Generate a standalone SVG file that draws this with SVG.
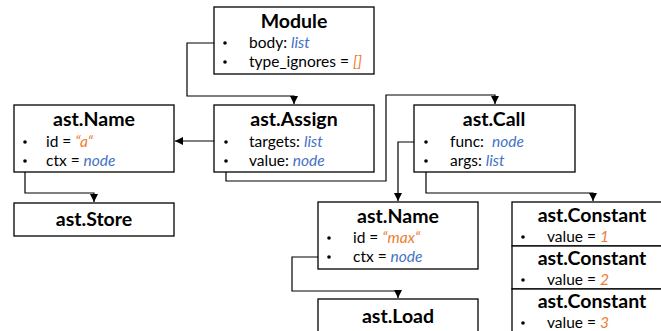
<svg xmlns="http://www.w3.org/2000/svg" width="661" height="331" viewBox="0 0 661 331">
  <defs>
    <marker id="arr" viewBox="0 0 8 8" refX="8" refY="4" markerWidth="8" markerHeight="8" markerUnits="userSpaceOnUse" orient="auto">
      <path d="M0,0 L8,4 L0,8 z" fill="#000"/>
    </marker>
  </defs>
  <style>
    .box { fill: #fff; stroke: #000; stroke-width: 1.3; }
    .title { font-family: Lato, "Liberation Sans", sans-serif; font-weight: bold; font-size: 19.5px; text-anchor: middle; fill: #000; }
    .txt { font-family: Lato, "Liberation Sans", sans-serif; font-size: 15.5px; fill: #000; }
    .blue { fill: #4472C4; font-style: italic; }
    .orange { fill: #ED7D31; font-style: italic; }
    .bul { fill: #000; }
    .wire { fill: none; stroke: #000; stroke-width: 1.2; }
  </style>

  <!-- edges -->
  <g id="connectors">
    <path class="wire" d="M225,43 H187 V96 H294 V104" marker-end="url(#arr)"/>
    <path class="wire" d="M226,141 H175" marker-end="url(#arr)"/>
    <path class="wire" d="M226,161 V181 H386 V95 H495 V104" marker-end="url(#arr)"/>
    <path class="wire" d="M25,161 V193 H94 V202" marker-end="url(#arr)"/>
    <path class="wire" d="M426,142 H398 V201" marker-end="url(#arr)"/>
    <path class="wire" d="M426,161 V193 H593 V201" marker-end="url(#arr)"/>
    <path class="wire" d="M329,257 H292 V291 H398 V298" marker-end="url(#arr)"/>
  </g>

  <g id="module">
    <rect class="box" x="214" y="7" width="160" height="67"/>
    <text class="title" x="294" y="28">Module</text>
    <circle class="bul" cx="225" cy="43" r="1.8"/>
    <text class="txt" x="249" y="48">body: <tspan class="blue">list</tspan></text>
    <circle class="bul" cx="225" cy="62" r="1.8"/>
    <text class="txt" x="249" y="67">type_ignores = <tspan class="orange">[]</tspan></text>
  </g>

  <g id="name-a">
    <rect class="box" x="14" y="105" width="160" height="67"/>
    <text class="title" x="94" y="126">ast.Name</text>
    <circle class="bul" cx="25" cy="142" r="1.8"/>
    <text class="txt" x="46" y="147">id = <tspan class="orange">“a“</tspan></text>
    <circle class="bul" cx="25" cy="161" r="1.8"/>
    <text class="txt" x="46" y="166">ctx = <tspan class="blue">node</tspan></text>
  </g>

  <g id="assign">
    <rect class="box" x="214" y="105" width="160" height="67"/>
    <text class="title" x="294" y="126">ast.Assign</text>
    <circle class="bul" cx="226" cy="142" r="1.8"/>
    <text class="txt" x="249" y="147">targets: <tspan class="blue">list</tspan></text>
    <circle class="bul" cx="226" cy="161" r="1.8"/>
    <text class="txt" x="249" y="166">value: <tspan class="blue">node</tspan></text>
  </g>

  <g id="call">
    <rect class="box" x="414" y="105" width="161" height="67"/>
    <text class="title" x="494" y="126">ast.Call</text>
    <circle class="bul" cx="426" cy="142" r="1.8"/>
    <text class="txt" x="450" y="147">func:&#160; <tspan class="blue">node</tspan></text>
    <circle class="bul" cx="426" cy="161" r="1.8"/>
    <text class="txt" x="450" y="166">args: <tspan class="blue">list</tspan></text>
  </g>

  <g id="store">
    <rect class="box" x="14" y="203" width="160" height="33"/>
    <text class="title" x="94" y="226">ast.Store</text>
  </g>

  <g id="name-max">
    <rect class="box" x="318" y="202" width="160" height="67"/>
    <text class="title" x="398" y="223">ast.Name</text>
    <circle class="bul" cx="329" cy="238" r="1.8"/>
    <text class="txt" x="353" y="243">id = <tspan class="orange">“max“</tspan></text>
    <circle class="bul" cx="329" cy="257" r="1.8"/>
    <text class="txt" x="353" y="262">ctx = <tspan class="blue">node</tspan></text>
  </g>

  <g id="load">
    <rect class="box" x="318" y="299" width="160" height="40"/>
    <text class="title" x="398" y="323">ast.Load</text>
  </g>

  <g id="constant-1">
    <rect class="box" x="512" y="202" width="155" height="44"/>
    <text class="title" x="592" y="222">ast.Constant</text>
    <circle class="bul" cx="523" cy="237" r="1.8"/>
    <text class="txt" x="547" y="242">value = <tspan class="orange">1</tspan></text>
  </g>

  <g id="constant-2">
    <rect class="box" x="512" y="246" width="155" height="43"/>
    <text class="title" x="592" y="265">ast.Constant</text>
    <circle class="bul" cx="523" cy="280" r="1.8"/>
    <text class="txt" x="547" y="285">value = <tspan class="orange">2</tspan></text>
  </g>

  <g id="constant-3">
    <rect class="box" x="512" y="289" width="155" height="50"/>
    <text class="title" x="592" y="308">ast.Constant</text>
    <circle class="bul" cx="523" cy="323" r="1.8"/>
    <text class="txt" x="547" y="328">value = <tspan class="orange">3</tspan></text>
  </g>
</svg>
